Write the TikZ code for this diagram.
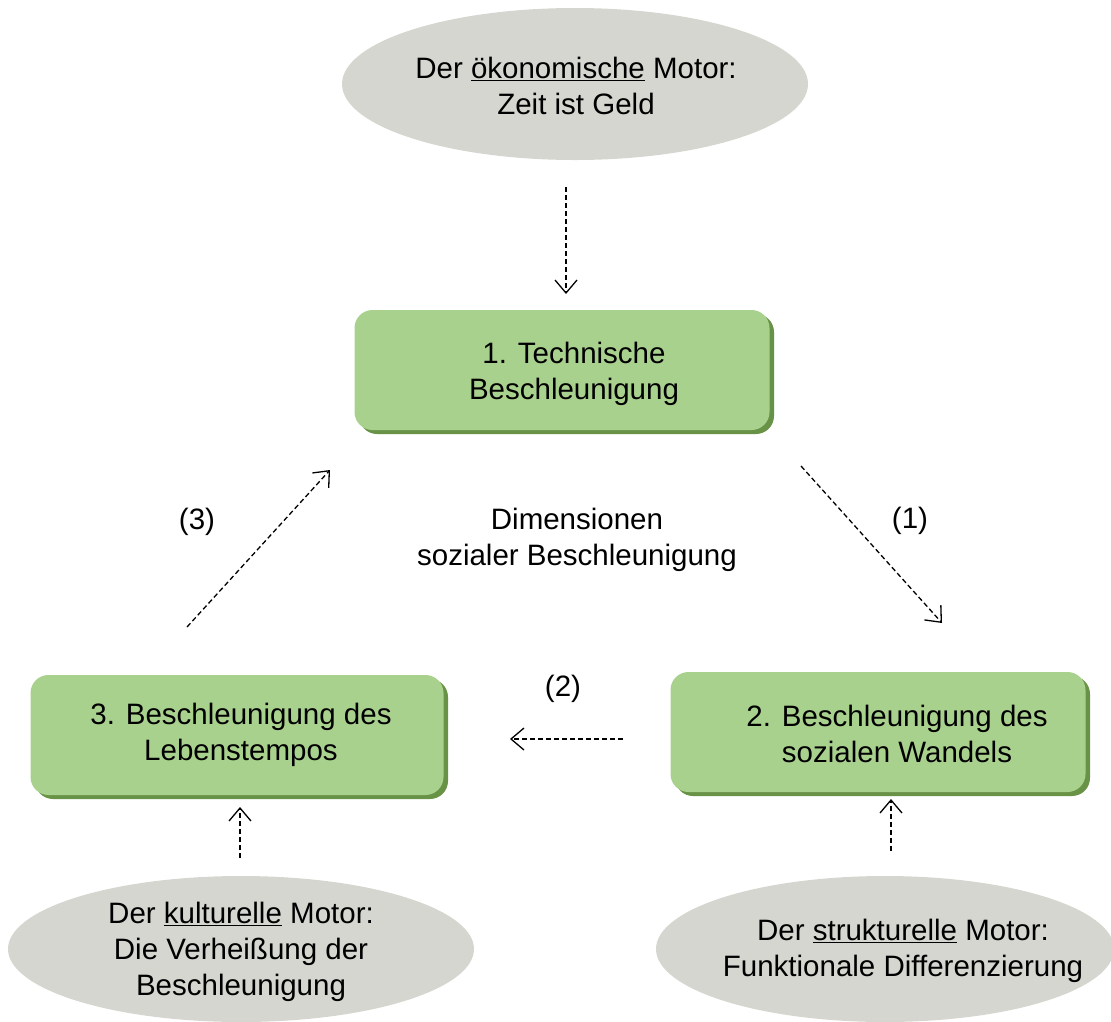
\documentclass[tikz,border=0pt]{standalone}
\usepackage{fontspec}
\setmainfont{Liberation Sans}
\usetikzlibrary{shapes.geometric,arrows.meta,calc}
\definecolor{boxgreen}{RGB}{169,209,142}
\definecolor{boxshade}{RGB}{104,146,70}
\definecolor{motorgray}{RGB}{214,214,209}
\tikzset{
  txt/.style={font=\fontsize{29.5}{36}\selectfont, align=center, inner sep=0pt},
  motorfill/.style={fill=motorgray, draw=none},
  dimbox/.style={txt, rounded corners=18pt, fill=boxgreen, draw=none,
    minimum width=415pt, minimum height=120pt},
  shade/.style={rounded corners=18pt, fill=boxshade},
  link/.style={line width=1.3pt, dash pattern=on 5pt off 3pt,
    -{Straight Barb[length=13pt,width=22pt,line width=1.3pt]}}
}
\begin{document}
\begin{tikzpicture}[x=1pt,y=-1pt]
\useasboundingbox (0,0) rectangle (1111,1021);

% motors: grey ellipses with their captions
\fill[motorfill] (575,84) ellipse [x radius=233, y radius=76];
\node[txt] (eco) at (576,86) {Der \underline{ökonomische} Motor:\\Zeit ist Geld};
\fill[motorfill] (241,949) ellipse [x radius=233, y radius=73];
\node[txt] (kult) at (241,952) {Der \underline{kulturelle} Motor:\\Die Verheißung der\\Beschleunigung};
\fill[motorfill] (885,949) ellipse [x radius=229, y radius=73];
\node[txt] (struk) at (903,951) {Der \underline{strukturelle} Motor:\\Funktionale Differenzierung};

% dimension boxes with drop shade
\fill[shade] (359,314) rectangle (774,434);
\node[dimbox] (tech) at (562,370) {};
\node[txt] (techtxt) at (574,374) {1. Technische\\Beschleunigung};
\fill[shade] (675,676) rectangle (1090,796);
\node[dimbox] (wandel) at (878,732) {};
\node[txt] (wandeltxt) at (897,734) {2. Beschleunigung des\\sozialen Wandels};
\fill[shade] (35,679) rectangle (448,799);
\node[dimbox, minimum width=413pt] (tempo) at (237,735) {};
\node[txt] (tempotxt) at (241,735) {3. Beschleunigung des\\Lebenstempos};

% centre label
\node[txt] (dim) at (577,540) {Dimensionen\\sozialer Beschleunigung};

% connector end points
\coordinate (e1) at (566,187);  \coordinate (t1) at (566,294);
\coordinate (t2) at (801,466);  \coordinate (w1) at (942,623);
\coordinate (w2) at (623,739);  \coordinate (p1) at (510,739);
\coordinate (p2) at (187,627);  \coordinate (t3) at (330,470);
\coordinate (k1) at (240,858);  \coordinate (p3) at (240,807);
\coordinate (s1) at (891,851);  \coordinate (w3) at (891,799);

\draw[link] (e1) -- (t1);
\draw[link] (t2) -- (w1);
\draw[link] (w2) -- (p1);
\draw[link] (p2) -- (t3);
\draw[link] (k1) -- (p3);
\draw[link] (s1) -- (w3);

% arrow labels
\node[txt] (l1) at (910,521) {(1)};
\node[txt] (l2) at (563,689) {(2)};
\node[txt] (l3) at (197,522) {(3)};
\end{tikzpicture}
\end{document}
